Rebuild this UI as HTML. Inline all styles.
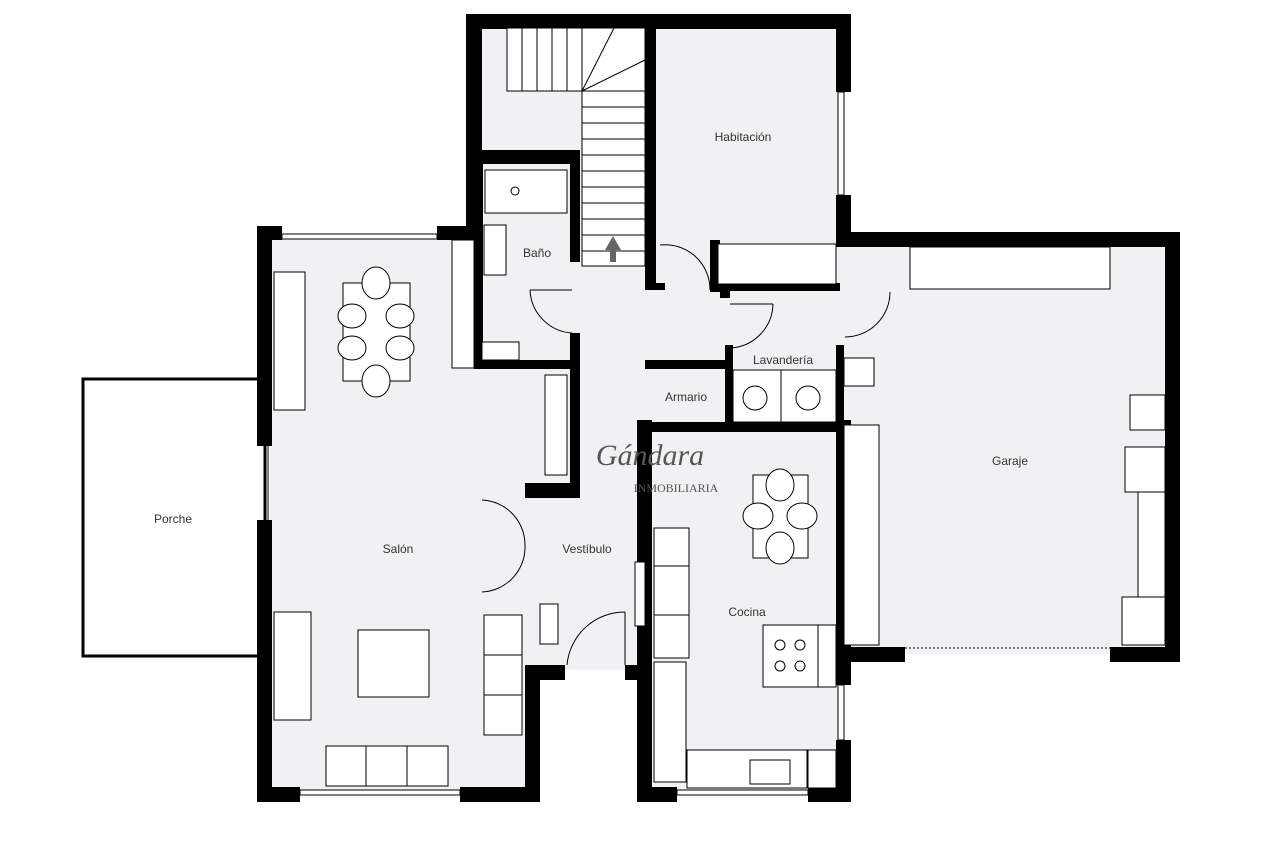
<!DOCTYPE html>
<html><head><meta charset="utf-8"><style>
html,body{margin:0;padding:0;background:#fff;}
svg{display:block}
text{font-family:"Liberation Sans",sans-serif;font-size:12px;fill:#333}
</style></head><body>
<svg width="1280" height="845" viewBox="0 0 1280 845" xmlns="http://www.w3.org/2000/svg">
<!-- floors -->
<g fill="#f1f1f3">
<rect x="270" y="238" width="260" height="555"/>
<rect x="478" y="24" width="365" height="340"/>
<rect x="530" y="290" width="120" height="380"/>
<rect x="645" y="425" width="195" height="370"/>
<rect x="640" y="280" width="540" height="150"/>
<rect x="842" y="244" width="330" height="410"/>
</g>
<!-- porch -->
<rect x="83" y="379" width="182" height="277" fill="#fff" stroke="#000" stroke-width="3"/>
<!-- walls -->
<g fill="#000">
<rect x="466" y="14" width="385" height="15"/>
<rect x="466" y="14" width="16" height="228"/>
<rect x="836" y="14" width="15" height="78"/>
<rect x="836" y="195" width="15" height="50"/>
<rect x="257" y="226" width="15" height="220"/>
<rect x="257" y="520" width="15" height="282"/>
<rect x="257" y="226" width="25" height="14"/>
<rect x="437" y="226" width="45" height="14"/>
<rect x="257" y="787" width="43" height="15"/>
<rect x="460" y="787" width="80" height="15"/>
<rect x="525" y="665" width="15" height="137"/>
<rect x="525" y="665" width="40" height="15"/>
<rect x="625" y="665" width="27" height="15"/>
<rect x="637" y="420" width="15" height="382"/>
<rect x="637" y="787" width="40" height="15"/>
<rect x="808" y="787" width="43" height="15"/>
<rect x="836" y="420" width="15" height="265"/>
<rect x="836" y="740" width="15" height="62"/>
<rect x="836" y="232" width="344" height="15"/>
<rect x="1165" y="232" width="15" height="430"/>
<rect x="836" y="647" width="69" height="15"/>
<rect x="1110" y="647" width="70" height="15"/>
<rect x="474" y="150" width="106" height="14"/>
<rect x="474" y="150" width="9" height="218"/>
<rect x="570" y="150" width="10" height="112"/>
<rect x="474" y="360" width="106" height="9"/>
<rect x="570" y="333" width="10" height="160"/>
<rect x="525" y="483" width="55" height="15"/>
<rect x="645" y="28" width="11" height="262"/>
<rect x="645" y="283" width="20" height="7"/>
<rect x="710" y="240" width="10" height="52"/>
<rect x="710" y="283" width="130" height="8"/>
<rect x="720" y="283" width="10" height="15"/>
<rect x="645" y="360" width="88" height="9"/>
<rect x="725" y="345" width="8" height="85"/>
<rect x="645" y="422" width="195" height="10"/>
<rect x="836" y="345" width="8" height="85"/>
</g>
<!-- windows -->
<g stroke="#000" fill="#fff" stroke-width="1">
<rect x="282" y="234" width="155" height="5"/>
<rect x="300" y="790" width="160" height="5"/>
<rect x="677" y="790" width="131" height="5"/>
<rect x="838" y="92" width="6" height="103"/>
<rect x="838" y="685" width="6" height="55"/>
<line x1="905" y1="648" x2="1110" y2="648" stroke-dasharray="2,2"/>
<line x1="268" y1="446" x2="268" y2="520"/>
</g>
<!-- stairs -->
<g stroke="#000" fill="#fff" stroke-width="1">
<rect x="507" y="28" width="138" height="63"/>
<line x1="522" y1="28" x2="522" y2="91"/><line x1="537" y1="28" x2="537" y2="91"/><line x1="552" y1="28" x2="552" y2="91"/><line x1="567" y1="28" x2="567" y2="91"/><line x1="582" y1="28" x2="582" y2="91"/>
<line x1="582" y1="91" x2="614" y2="28"/><line x1="582" y1="91" x2="645" y2="60"/>
<rect x="582" y="91" width="63" height="175"/>
<line x1="582" y1="107" x2="645" y2="107"/><line x1="582" y1="123" x2="645" y2="123"/><line x1="582" y1="139" x2="645" y2="139"/><line x1="582" y1="155" x2="645" y2="155"/><line x1="582" y1="171" x2="645" y2="171"/><line x1="582" y1="187" x2="645" y2="187"/><line x1="582" y1="203" x2="645" y2="203"/><line x1="582" y1="219" x2="645" y2="219"/><line x1="582" y1="235" x2="645" y2="235"/><line x1="582" y1="251" x2="645" y2="251"/>
</g>
<polygon points="613,236 605,250 610,250 610,262 616,262 616,250 621,250" fill="#666"/>
<!-- furniture -->
<g stroke="#000" fill="#fff" stroke-width="1">
<rect x="485" y="170" width="82" height="43"/><circle cx="515" cy="191" r="4"/>
<rect x="484" y="225" width="22" height="50"/>
<rect x="482" y="342" width="37" height="18"/>
<rect x="452" y="240" width="22" height="128"/>
<rect x="718" y="244" width="118" height="40"/>
<rect x="910" y="247" width="200" height="42"/>
<rect x="274" y="272" width="31" height="138"/>
<rect x="274" y="612" width="37" height="108"/>
<rect x="343" y="283" width="67" height="98"/>
<rect x="358" y="630" width="71" height="67"/>
<rect x="326" y="746" width="122" height="40"/><line x1="366" y1="746" x2="366" y2="786"/><line x1="407" y1="746" x2="407" y2="786"/>
<rect x="484" y="615" width="38" height="120"/><line x1="484" y1="655" x2="522" y2="655"/><line x1="484" y1="695" x2="522" y2="695"/>
<rect x="540" y="604" width="18" height="40"/>
<rect x="545" y="375" width="22" height="100"/>
<rect x="635" y="562" width="10" height="64"/>
<rect x="654" y="528" width="35" height="130"/><line x1="654" y1="566" x2="689" y2="566"/><line x1="654" y1="615" x2="689" y2="615"/>
<rect x="654" y="662" width="32" height="120"/>
<rect x="687" y="750" width="120" height="38"/>
<rect x="750" y="760" width="40" height="24"/>
<rect x="808" y="750" width="28" height="38"/>
<rect x="763" y="625" width="55" height="62"/><rect x="818" y="625" width="18" height="62"/>
<circle cx="780" cy="645" r="5"/><circle cx="800" cy="645" r="5"/><circle cx="780" cy="666" r="5"/><circle cx="800" cy="666" r="5"/>
<rect x="753" y="475" width="55" height="83"/>
<rect x="733" y="370" width="48" height="52"/><rect x="781" y="370" width="55" height="52"/>
<circle cx="755" cy="398" r="12"/><circle cx="808" cy="398" r="12"/>
<rect x="844" y="358" width="30" height="28"/>
<rect x="844" y="425" width="35" height="220"/>
<rect x="1130" y="395" width="35" height="35"/>
<rect x="1125" y="447" width="40" height="45"/>
<rect x="1138" y="492" width="27" height="105"/>
<rect x="1122" y="597" width="43" height="48"/>
</g>
<g fill="#fff" stroke="#000">
<ellipse cx="376" cy="283" rx="14" ry="16"/><ellipse cx="376" cy="381" rx="14" ry="16"/>
<ellipse cx="352" cy="316" rx="14" ry="12"/><ellipse cx="400" cy="316" rx="14" ry="12"/>
<ellipse cx="352" cy="348" rx="14" ry="12"/><ellipse cx="400" cy="348" rx="14" ry="12"/>
<ellipse cx="780" cy="485" rx="14" ry="16"/><ellipse cx="780" cy="548" rx="14" ry="16"/>
<ellipse cx="758" cy="516" rx="15" ry="13"/><ellipse cx="802" cy="516" rx="15" ry="13"/>
</g>
<!-- doors -->
<g fill="none" stroke="#000" stroke-width="1">
<path d="M530 290 A45 45 0 0 0 572 333"/><line x1="530" y1="290" x2="572" y2="290"/>
<path d="M660 245 A45 45 0 0 1 710 290"/>
<path d="M773 304 A45 45 0 0 1 730 348"/><line x1="730" y1="304" x2="773" y2="304"/>
<path d="M890 292 A45 45 0 0 1 845 337"/>
<path d="M482 500 A45 45 0 0 1 525 545 A45 45 0 0 1 482 592"/>
<path d="M567 665 A58 58 0 0 1 625 612"/><line x1="625" y1="612" x2="625" y2="665"/>
</g>
<!-- labels -->
<text x="743" y="141" text-anchor="middle">Habitación</text>
<text x="537" y="257" text-anchor="middle">Baño</text>
<text x="783" y="364" text-anchor="middle">Lavandería</text>
<text x="686" y="401" text-anchor="middle">Armario</text>
<text x="1010" y="465" text-anchor="middle">Garaje</text>
<text x="173" y="523" text-anchor="middle">Porche</text>
<text x="398" y="553" text-anchor="middle">Salón</text>
<text x="587" y="553" text-anchor="middle">Vestíbulo</text>
<text x="747" y="616" text-anchor="middle">Cocina</text>
<text x="650" y="465" text-anchor="middle" style="font-family:'Liberation Serif',serif;font-size:30px;font-style:italic;fill:#555">Gándara</text>
<text x="676" y="492" text-anchor="middle" style="font-family:'Liberation Serif',serif;font-size:12px;fill:#555">INMOBILIARIA</text>
</svg>
</body></html>
